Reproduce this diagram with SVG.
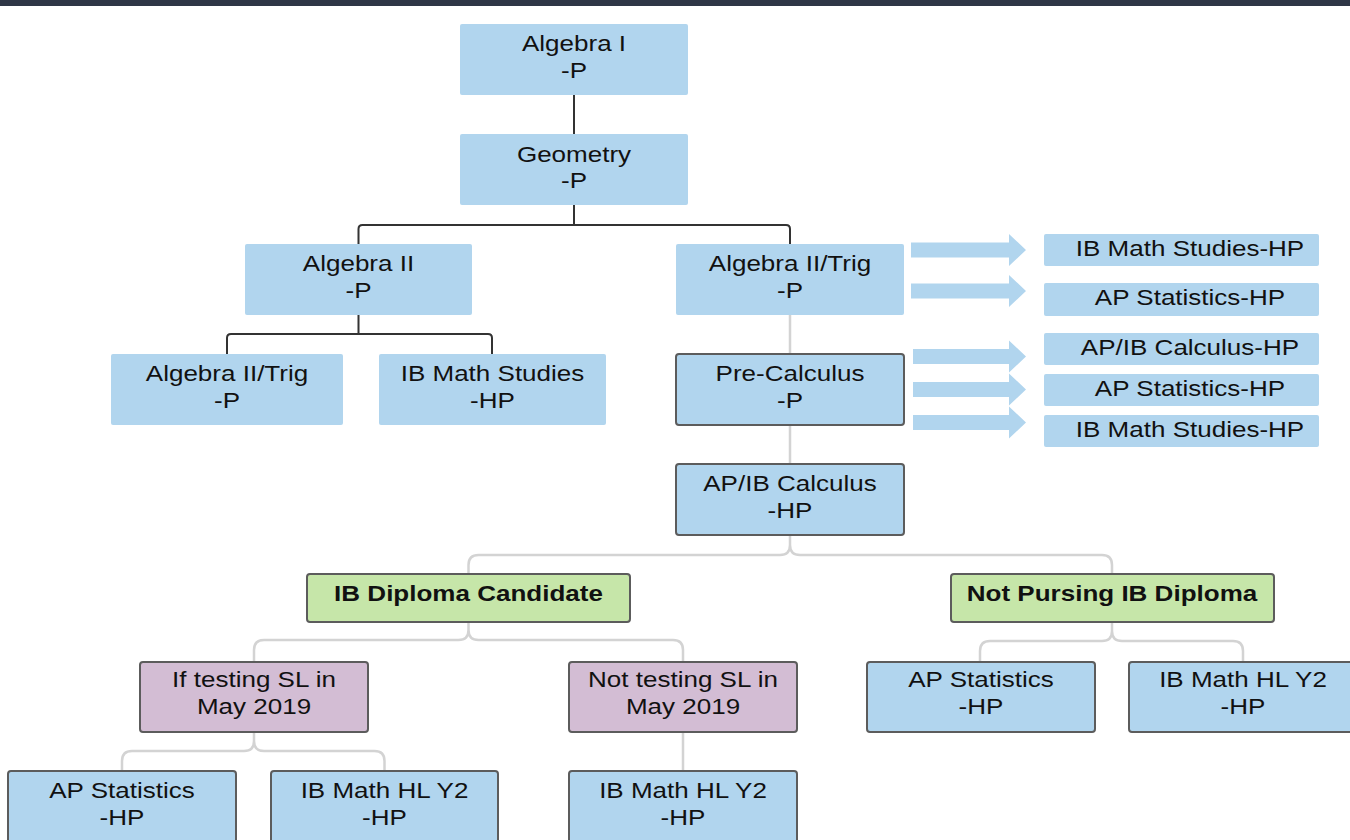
<svg xmlns="http://www.w3.org/2000/svg" width="1350" height="840" viewBox="0 0 1350 840">
<defs>
<style>
.t{font-family:"Liberation Sans",Arial,sans-serif;font-size:21.5px;fill:#111;text-anchor:middle}
.b{font-weight:bold}
.blue{fill:#b1d5ee}
.bb{fill:#b1d5ee;stroke:#5c5c5c;stroke-width:2}
.green{fill:#c6e6a9;stroke:#5c5c5c;stroke-width:2}
.purple{fill:#d3bdd4;stroke:#5c5c5c;stroke-width:2}
.dk{fill:none;stroke:#333;stroke-width:2}
.lt{fill:none;stroke:#d3d3d3;stroke-width:2.5}
.arr{fill:#b1d5ee}
</style>
</defs>
<rect x="0" y="0" width="1350" height="840" fill="#fff"/>
<rect x="0" y="0" width="1350" height="6" fill="#2f3646"/>

<g id="connectors">
<path class="dk" d="M574,95 V134"/>
<path class="dk" d="M574,205 V225 M358.5,244 V229 Q358.5,225 362.5,225 H786 Q790,225 790,229 V244"/>
<path class="dk" d="M358.5,315 V334 M227,354 V338 Q227,334 231,334 H488 Q492,334 492,338 V354"/>
<path class="lt" d="M790,315 V354 M790,425 V464"/>
<path class="lt" d="M790,535 V545 Q790,555 780,555 H478.5 Q468.5,555 468.5,565 V574 M790,545 Q790,555 800,555 H1102 Q1112,555 1112,565 V574"/>
<path class="lt" d="M468.5,622 V630 Q468.5,640 458.5,640 H264 Q254,640 254,650 V662 M468.5,630 Q468.5,640 478.5,640 H673 Q683,640 683,650 V662"/>
<path class="lt" d="M254,732 V741 Q254,751 244,751 H132 Q122,751 122,761 V771 M254,741 Q254,751 264,751 H374.5 Q384.5,751 384.5,761 V771"/>
<path class="lt" d="M683,732 V771"/>
<path class="lt" d="M1112,622 V631 Q1112,641 1102,641 H990 Q980,641 980,651 V662 M1112,631 Q1112,641 1122,641 H1233 Q1243,641 1243,651 V662"/>
<path class="arr" d="M911,242.5 H1009 V234 L1026,250 L1009,266 V257.5 H911 Z"/>
<path class="arr" d="M911,283.5 H1009 V275 L1026,291 L1009,307 V298.5 H911 Z"/>
<path class="arr" d="M913,349 H1009 V340.5 L1026,356.5 L1009,372.5 V364 H913 Z"/>
<path class="arr" d="M913,382 H1009 V373.5 L1026,389.5 L1009,405.5 V397 H913 Z"/>
<path class="arr" d="M913,415 H1009 V406.5 L1026,422.5 L1009,438.5 V430 H913 Z"/>
</g>

<g id="algebra1">
<rect class="blue" x="460" y="24" width="228" height="71" rx="2"/>
<text class="t" transform="translate(574 51) scale(1.21 1)">Algebra I</text>
<text class="t" transform="translate(574 78) scale(1.21 1)">-P</text>
</g>
<g id="geometry">
<rect class="blue" x="460" y="134" width="228" height="71" rx="2"/>
<text class="t" transform="translate(574 161.5) scale(1.21 1)">Geometry</text>
<text class="t" transform="translate(574 188) scale(1.21 1)">-P</text>
</g>
<g id="algebra2">
<rect class="blue" x="245" y="244" width="227" height="71" rx="2"/>
<text class="t" transform="translate(358.5 271) scale(1.21 1)">Algebra II</text>
<text class="t" transform="translate(358.5 298) scale(1.21 1)">-P</text>
</g>
<g id="algebra2trig">
<rect class="blue" x="676" y="244" width="228" height="71" rx="2"/>
<text class="t" transform="translate(790 271) scale(1.21 1)">Algebra II/Trig</text>
<text class="t" transform="translate(790 298) scale(1.21 1)">-P</text>
</g>
<g id="algebra2trig-left">
<rect class="blue" x="111" y="354" width="232" height="71" rx="2"/>
<text class="t" transform="translate(227 381) scale(1.21 1)">Algebra II/Trig</text>
<text class="t" transform="translate(227 408) scale(1.21 1)">-P</text>
</g>
<g id="ib-math-studies">
<rect class="blue" x="379" y="354" width="227" height="71" rx="2"/>
<text class="t" transform="translate(492.5 381) scale(1.21 1)">IB Math Studies</text>
<text class="t" transform="translate(492.5 408) scale(1.21 1)">-HP</text>
</g>
<g id="precalculus">
<rect class="bb" x="676" y="354" width="228" height="71" rx="3"/>
<text class="t" transform="translate(790 381) scale(1.21 1)">Pre-Calculus</text>
<text class="t" transform="translate(790 408) scale(1.21 1)">-P</text>
</g>
<g id="apib-calculus">
<rect class="bb" x="676" y="464" width="228" height="71" rx="3"/>
<text class="t" transform="translate(790 491) scale(1.21 1)">AP/IB Calculus</text>
<text class="t" transform="translate(790 518) scale(1.21 1)">-HP</text>
</g>

<g id="r1">
<rect class="blue" x="1044" y="234" width="275" height="32" rx="2"/>
<text class="t" transform="translate(1190 255.5) scale(1.21 1)">IB Math Studies-HP</text>
</g>
<g id="r2">
<rect class="blue" x="1044" y="283" width="275" height="33" rx="2"/>
<text class="t" transform="translate(1190 305) scale(1.21 1)">AP Statistics-HP</text>
</g>
<g id="r3">
<rect class="blue" x="1044" y="333" width="275" height="32" rx="2"/>
<text class="t" transform="translate(1190 355) scale(1.21 1)">AP/IB Calculus-HP</text>
</g>
<g id="r4">
<rect class="blue" x="1044" y="374" width="275" height="32" rx="2"/>
<text class="t" transform="translate(1190 396) scale(1.21 1)">AP Statistics-HP</text>
</g>
<g id="r5">
<rect class="blue" x="1044" y="415" width="275" height="32" rx="2"/>
<text class="t" transform="translate(1190 437) scale(1.21 1)">IB Math Studies-HP</text>
</g>

<g id="ib-diploma">
<rect class="green" x="307" y="574" width="323" height="48" rx="3"/>
<text class="t b" transform="translate(468.5 601) scale(1.21 1)">IB Diploma Candidate</text>
</g>
<g id="not-ib">
<rect class="green" x="951" y="574" width="323" height="48" rx="3"/>
<text class="t b" transform="translate(1112 601) scale(1.21 1)">Not Pursing IB Diploma</text>
</g>

<g id="if-testing">
<rect class="purple" x="140" y="662" width="228" height="70" rx="3"/>
<text class="t" transform="translate(254 687) scale(1.21 1)">If testing SL in</text>
<text class="t" transform="translate(254 714) scale(1.21 1)">May 2019</text>
</g>
<g id="not-testing">
<rect class="purple" x="569" y="662" width="228" height="70" rx="3"/>
<text class="t" transform="translate(683 687) scale(1.21 1)">Not testing SL in</text>
<text class="t" transform="translate(683 714) scale(1.21 1)">May 2019</text>
</g>
<g id="ap-stats-right">
<rect class="bb" x="867" y="662" width="228" height="70" rx="3"/>
<text class="t" transform="translate(981 687) scale(1.21 1)">AP Statistics</text>
<text class="t" transform="translate(981 714) scale(1.21 1)">-HP</text>
</g>
<g id="ib-hl-right">
<rect class="bb" x="1129" y="662" width="228" height="70" rx="3"/>
<text class="t" transform="translate(1243 687) scale(1.21 1)">IB Math HL Y2</text>
<text class="t" transform="translate(1243 714) scale(1.21 1)">-HP</text>
</g>

<g id="ap-stats-bottom">
<rect class="bb" x="8" y="771" width="228" height="76" rx="3"/>
<text class="t" transform="translate(122 798) scale(1.21 1)">AP Statistics</text>
<text class="t" transform="translate(122 825) scale(1.21 1)">-HP</text>
</g>
<g id="ib-hl-bottom1">
<rect class="bb" x="271" y="771" width="227" height="76" rx="3"/>
<text class="t" transform="translate(384.5 798) scale(1.21 1)">IB Math HL Y2</text>
<text class="t" transform="translate(384.5 825) scale(1.21 1)">-HP</text>
</g>
<g id="ib-hl-bottom2">
<rect class="bb" x="569" y="771" width="228" height="76" rx="3"/>
<text class="t" transform="translate(683 798) scale(1.21 1)">IB Math HL Y2</text>
<text class="t" transform="translate(683 825) scale(1.21 1)">-HP</text>
</g>
</svg>
